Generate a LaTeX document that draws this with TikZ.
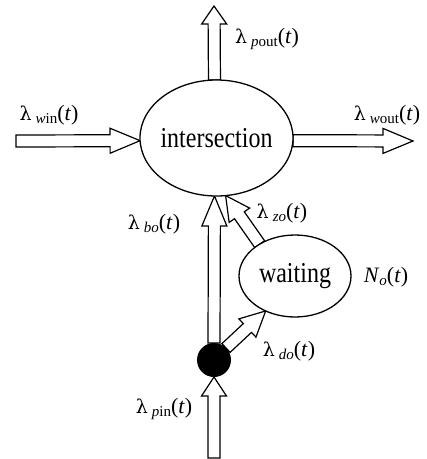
\documentclass[tikz,border=0pt]{standalone}
\usepackage{fontspec}
\usepackage{graphicx}
\setmainfont{Liberation Serif}
\newfontfamily\lamfont{DejaVu Serif}
\usetikzlibrary{shapes.geometric,calc}
\pgfdeclarelayer{background}
\pgfsetlayers{background,main}
\newcommand\lbl[1]{{\lamfont\fontsize{19}{22}\selectfont λ}\hspace{4pt}{\fontsize{15}{15}\selectfont\raisebox{-0.4ex}{#1}}(\textit{t})}
\newcommand\fatarrow[3]{%
  \coordinate (fah) at ($(#2)!#3!(#1)$);
  \draw[fat] ($(#1)!6pt!90:(#2)$) -- ($(fah)!6pt!90:(#2)$) -- ($(fah)!12.5pt!90:(#2)$) -- (#2)
    -- ($(fah)!12.5pt!-90:(#2)$) -- ($(fah)!6pt!-90:(#2)$) -- ($(#1)!6pt!-90:(#2)$) -- cycle;}
\begin{document}
\begin{tikzpicture}[x=1pt,y=-1pt,
  fat/.style={draw=black, fill=white, line width=1.2pt, line join=miter},
  ell/.style={ellipse, draw, line width=1.3pt, fill=white, inner sep=0pt, outer sep=0pt},
  lab/.style={font=\fontsize{22}{24}\selectfont, inner sep=0pt},
  big/.style={font=\fontsize{24}{28}\selectfont, inner sep=0pt}]
\useasboundingbox (0,0) rectangle (427,459);
\node[ell, minimum width=153pt, minimum height=116pt] (inter) at (216.5,138) {};
\node[big] (intertext) at (inter.center) {\scalebox{1}[1.2]{intersection}};
\node[ell, minimum width=112pt, minimum height=82pt] (wait) at (295,276) {};
\node[big] (waittext) at (wait.center) {\scalebox{1}[1.2]{waiting}};
\node[circle, fill=black, minimum size=34pt, inner sep=0pt, outer sep=0pt] (dot) at (214,360) {};
\coordinate (poutend) at (214,6);
\coordinate (winstart) at (16,141);
\coordinate (woutend) at (413,141);
\coordinate (pinstart) at (214,458);
\begin{pgfonlayer}{background}
\fatarrow{inter.92}{poutend}{18pt}
\fatarrow{winstart}{inter.182}{30pt}
\fatarrow{inter.358}{woutend}{30pt}
\fatarrow{pinstart}{dot.south}{19pt}
\fatarrow{dot.north}{inter.-92}{30pt}
\fatarrow{wait.138}{inter.-81.5}{24pt}
\fatarrow{dot.45}{wait.230}{25pt}
\end{pgfonlayer}
\node[lab] (lpout) at (267,39) {\lbl{\textit{p}out}};
\node[lab] (lwin) at (49,115) {\lbl{\textit{w}in}};
\node[lab] (lwout) at (387,115) {\lbl{\textit{w}out}};
\node[lab] (lbo) at (154,224) {\lbl{\textit{bo}}};
\node[lab] (lzo) at (282,213) {\lbl{\textit{zo}}};
\node[lab] (ldo) at (289,351) {\lbl{\textit{do}}};
\node[lab] (lpin) at (164,409) {\lbl{\textit{p}in}};
\node[lab] (lno) at (386,277) {\textit{N}{\fontsize{15}{15}\selectfont\raisebox{-0.4ex}{\textit{o}}}(\textit{t})};
\end{tikzpicture}
\end{document}
